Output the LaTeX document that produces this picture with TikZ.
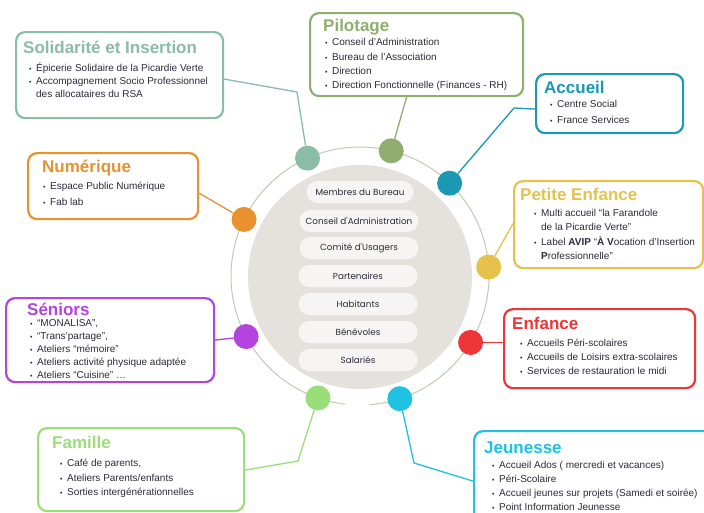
\documentclass[tikz,border=0pt]{standalone}
\usepackage{fontspec}
\setmainfont{Liberation Sans}
\newfontfamily\pillfont{Poppins}
\usetikzlibrary{calc}
\definecolor{solc}{HTML}{8BBCA6}
\definecolor{pilc}{HTML}{8FAE70}
\definecolor{accc}{HTML}{1B98B3}
\definecolor{pec}{HTML}{E6C24A}
\definecolor{numc}{HTML}{E8922F}
\definecolor{senc}{HTML}{B444E0}
\definecolor{enfc}{HTML}{EF3535}
\definecolor{famc}{HTML}{9ADE78}
\definecolor{jeuc}{HTML}{1FC2E3}
\definecolor{ringc}{HTML}{BFCCB3}
\definecolor{discc}{HTML}{E5E2DD}
\definecolor{pillc}{HTML}{F6F5F3}
\definecolor{txt}{HTML}{2B2B3A}
\newcommand{\bl}{{\fontsize{7}{7}\selectfont\textbullet}}
\newcommand{\itemlist}[2]{\fontsize{10}{#1}\selectfont\begin{tabular}{@{}l@{\hspace{4.5pt}}l@{}}#2\end{tabular}}
\begin{document}
\begin{tikzpicture}[x=1pt,y=-1pt,
  box/.style={draw, line width=2.2pt, rounded corners=9pt, fill=white, inner sep=0pt, anchor=north west},
  ttl/.style={anchor=base west, inner sep=0pt, font=\fontsize{17}{17}\selectfont\bfseries},
  items/.style={anchor=north west, inner sep=0pt, text=txt},
  conn/.style={line width=1.3pt},
  dot/.style={circle, minimum size=25pt, inner sep=0pt},
  pill/.style={rounded corners=11pt, fill=pillc, minimum height=22pt, minimum width=119pt, inner sep=0pt, font=\pillfont\fontsize{8.8}{10}\selectfont, text=txt}]
\useasboundingbox (0,0) rectangle (704,512);
\clip (0,0) rectangle (704,512);
\fill[white] (0,0) rectangle (704,512);
\coordinate (C) at (360,276);
% central disc and ring
\fill[discc] (360,277) circle[radius=112];
\draw[ringc, line width=1pt] ($(C)+(96.6:129)$) arc[start angle=96.6, end angle=446, radius=129];
% pills
\node[pill, minimum width=107pt] (p1) at (360,192) {Membres du Bureau};
\node[pill] (p2) at (359,221) {Conseil d'Administration};
\node[pill] (p3) at (359,248) {Comité d'Usagers};
\node[pill] (p4) at (358,276) {Partenaires};
\node[pill] (p5) at (358,304) {Habitants};
\node[pill] (p6) at (358,332) {Bénévoles};
\node[pill] (p7) at (358,360) {Salariés};
% dots
\node[dot, fill=solc] (soldot) at ($(C)+(-114:129)$) {};
\node[dot, fill=pilc] (pildot) at ($(C)+(-76:129)$) {};
\node[dot, fill=accc] (accdot) at ($(C)+(-46:129)$) {};
\node[dot, fill=pec] (pedot) at ($(C)+(-4:129)$) {};
\node[dot, fill=enfc] (enfdot) at ($(C)+(31:129)$) {};
\node[dot, fill=jeuc] (jeudot) at ($(C)+(72:129)$) {};
\node[dot, fill=famc] (famdot) at ($(C)+(109:129)$) {};
\node[dot, fill=senc] (sendot) at ($(C)+(152:129)$) {};
\node[dot, fill=numc] (numdot) at ($(C)+(-154:129)$) {};
% boxes
\node[box, draw=solc, minimum width=207pt, minimum height=86pt] (solbox) at (15,31) {};
\node[box, draw=pilc, minimum width=213pt, minimum height=83pt] (pilbox) at (309,12) {};
\node[box, draw=accc, minimum width=147pt, minimum height=59pt] (accbox) at (535,73) {};
\node[box, draw=pec, minimum width=189pt, minimum height=87pt] (pebox) at (513,180) {};
\node[box, draw=numc, minimum width=170pt, minimum height=66pt] (numbox) at (27,152) {};
\node[box, draw=senc, minimum width=208pt, minimum height=84pt] (senbox) at (5,297) {};
\node[box, draw=enfc, minimum width=191pt, minimum height=79pt] (enfbox) at (503,308) {};
\node[box, draw=famc, minimum width=206pt, minimum height=83pt] (fambox) at (37,427) {};
\node[box, draw=jeuc, minimum width=240pt, minimum height=95pt] (jeubox) at (473,430) {};
% titles
\node[ttl, text=solc] (solt) at (23,53) {Solidarité et Insertion};
\node[ttl, text=pilc] (pilt) at (323,31) {Pilotage};
\node[ttl, text=accc] (acct) at (544,93) {Accueil};
\node[ttl, text=pec] (pet) at (520,200) {Petite Enfance};
\node[ttl, text=numc] (numt) at (42,172) {Numérique};
\node[ttl, text=senc] (sent) at (27,315) {Séniors};
\node[ttl, text=enfc] (enft) at (512,329) {Enfance};
\node[ttl, text=famc] (famt) at (52,448) {Famille};
\node[ttl, text=jeuc] (jeut) at (484,453) {Jeunesse};
% item lists
\node[items] (soli) at (29,62.4) {\itemlist{13}{\bl & Épicerie Solidaire de la Picardie Verte\\ \bl & Accompagnement Socio Professionnel\\ & des allocataires du RSA}};
\node[items] (pili) at (325,35.5) {\itemlist{14.3}{\bl & Conseil d'Administration\\ \bl & Bureau de l'Association\\ \bl & Direction\\ \bl & Direction Fonctionnelle (Finances - RH)}};
\node[items] (acci) at (550,95.8) {\itemlist{16}{\bl & Centre Social\\ \bl & France Services}};
\node[items] (pei) at (534,206.6) {\itemlist{14.2}{\bl & Multi accueil “la Farandole\\ & de la Picardie Verte”\\ \bl & Label \textbf{AVIP} “\textbf{À} \textbf{V}ocation d'Insertion\\ & \textbf{P}rofessionnelle”}};
\node[items] (numi) at (43,177.5) {\itemlist{16.5}{\bl & Espace Public Numérique\\ \bl & Fab lab}};
\node[items] (seni) at (30,317.4) {\itemlist{13}{\bl & “MONALISA”,\\ \bl & “Trans'partage”,\\ \bl & Ateliers “mémoire”\\ \bl & Ateliers activité physique adaptée\\ \bl & Ateliers “Cuisine” …}};
\node[items] (enfi) at (520,336.7) {\itemlist{14}{\bl & Accueils Péri-scolaires\\ \bl & Accueils de Loisirs extra-scolaires\\ \bl & Services de restauration le midi}};
\node[items] (fami) at (60,456.3) {\itemlist{14.5}{\bl & Café de parents,\\ \bl & Ateliers Parents/enfants\\ \bl & Sorties intergénérationnelles}};
\node[items] (jeui) at (492,458.7) {\itemlist{14}{\bl & Accueil Ados ( mercredi et vacances)\\ \bl & Péri-Scolaire\\ \bl & Accueil jeunes sur projets (Samedi et soirée)\\ \bl & Point Information Jeunesse}};
% connectors
\draw[conn, solc] ($(solbox.east)+(0,4)$) -- (297,92) -- (soldot);
\draw[conn, pilc] ($(pilbox.south)+(-10,0)$) -- (pildot);
\draw[conn, accc] (accdot) -- (514,108) -- ($(accbox.west)+(0,5.5)$);
\draw[conn, pec] ($(pebox.west)+(0,-1)$) -- (pedot);
\draw[conn, enfc] (enfdot) -- (enfdot -| enfbox.west);
\draw[conn, jeuc] (jeudot) -- (414,463) -- ($(jeubox.west)+(0,2.5)$);
\draw[conn, famc] (famdot) -- (298,461) -- ($(fambox.east)+(0,0.5)$);
\draw[conn, senc] (sendot) -- (senbox.east);
\draw[conn, numc] ($(numbox.east)+(0,7)$) -- (numdot);
\end{tikzpicture}
\end{document}
